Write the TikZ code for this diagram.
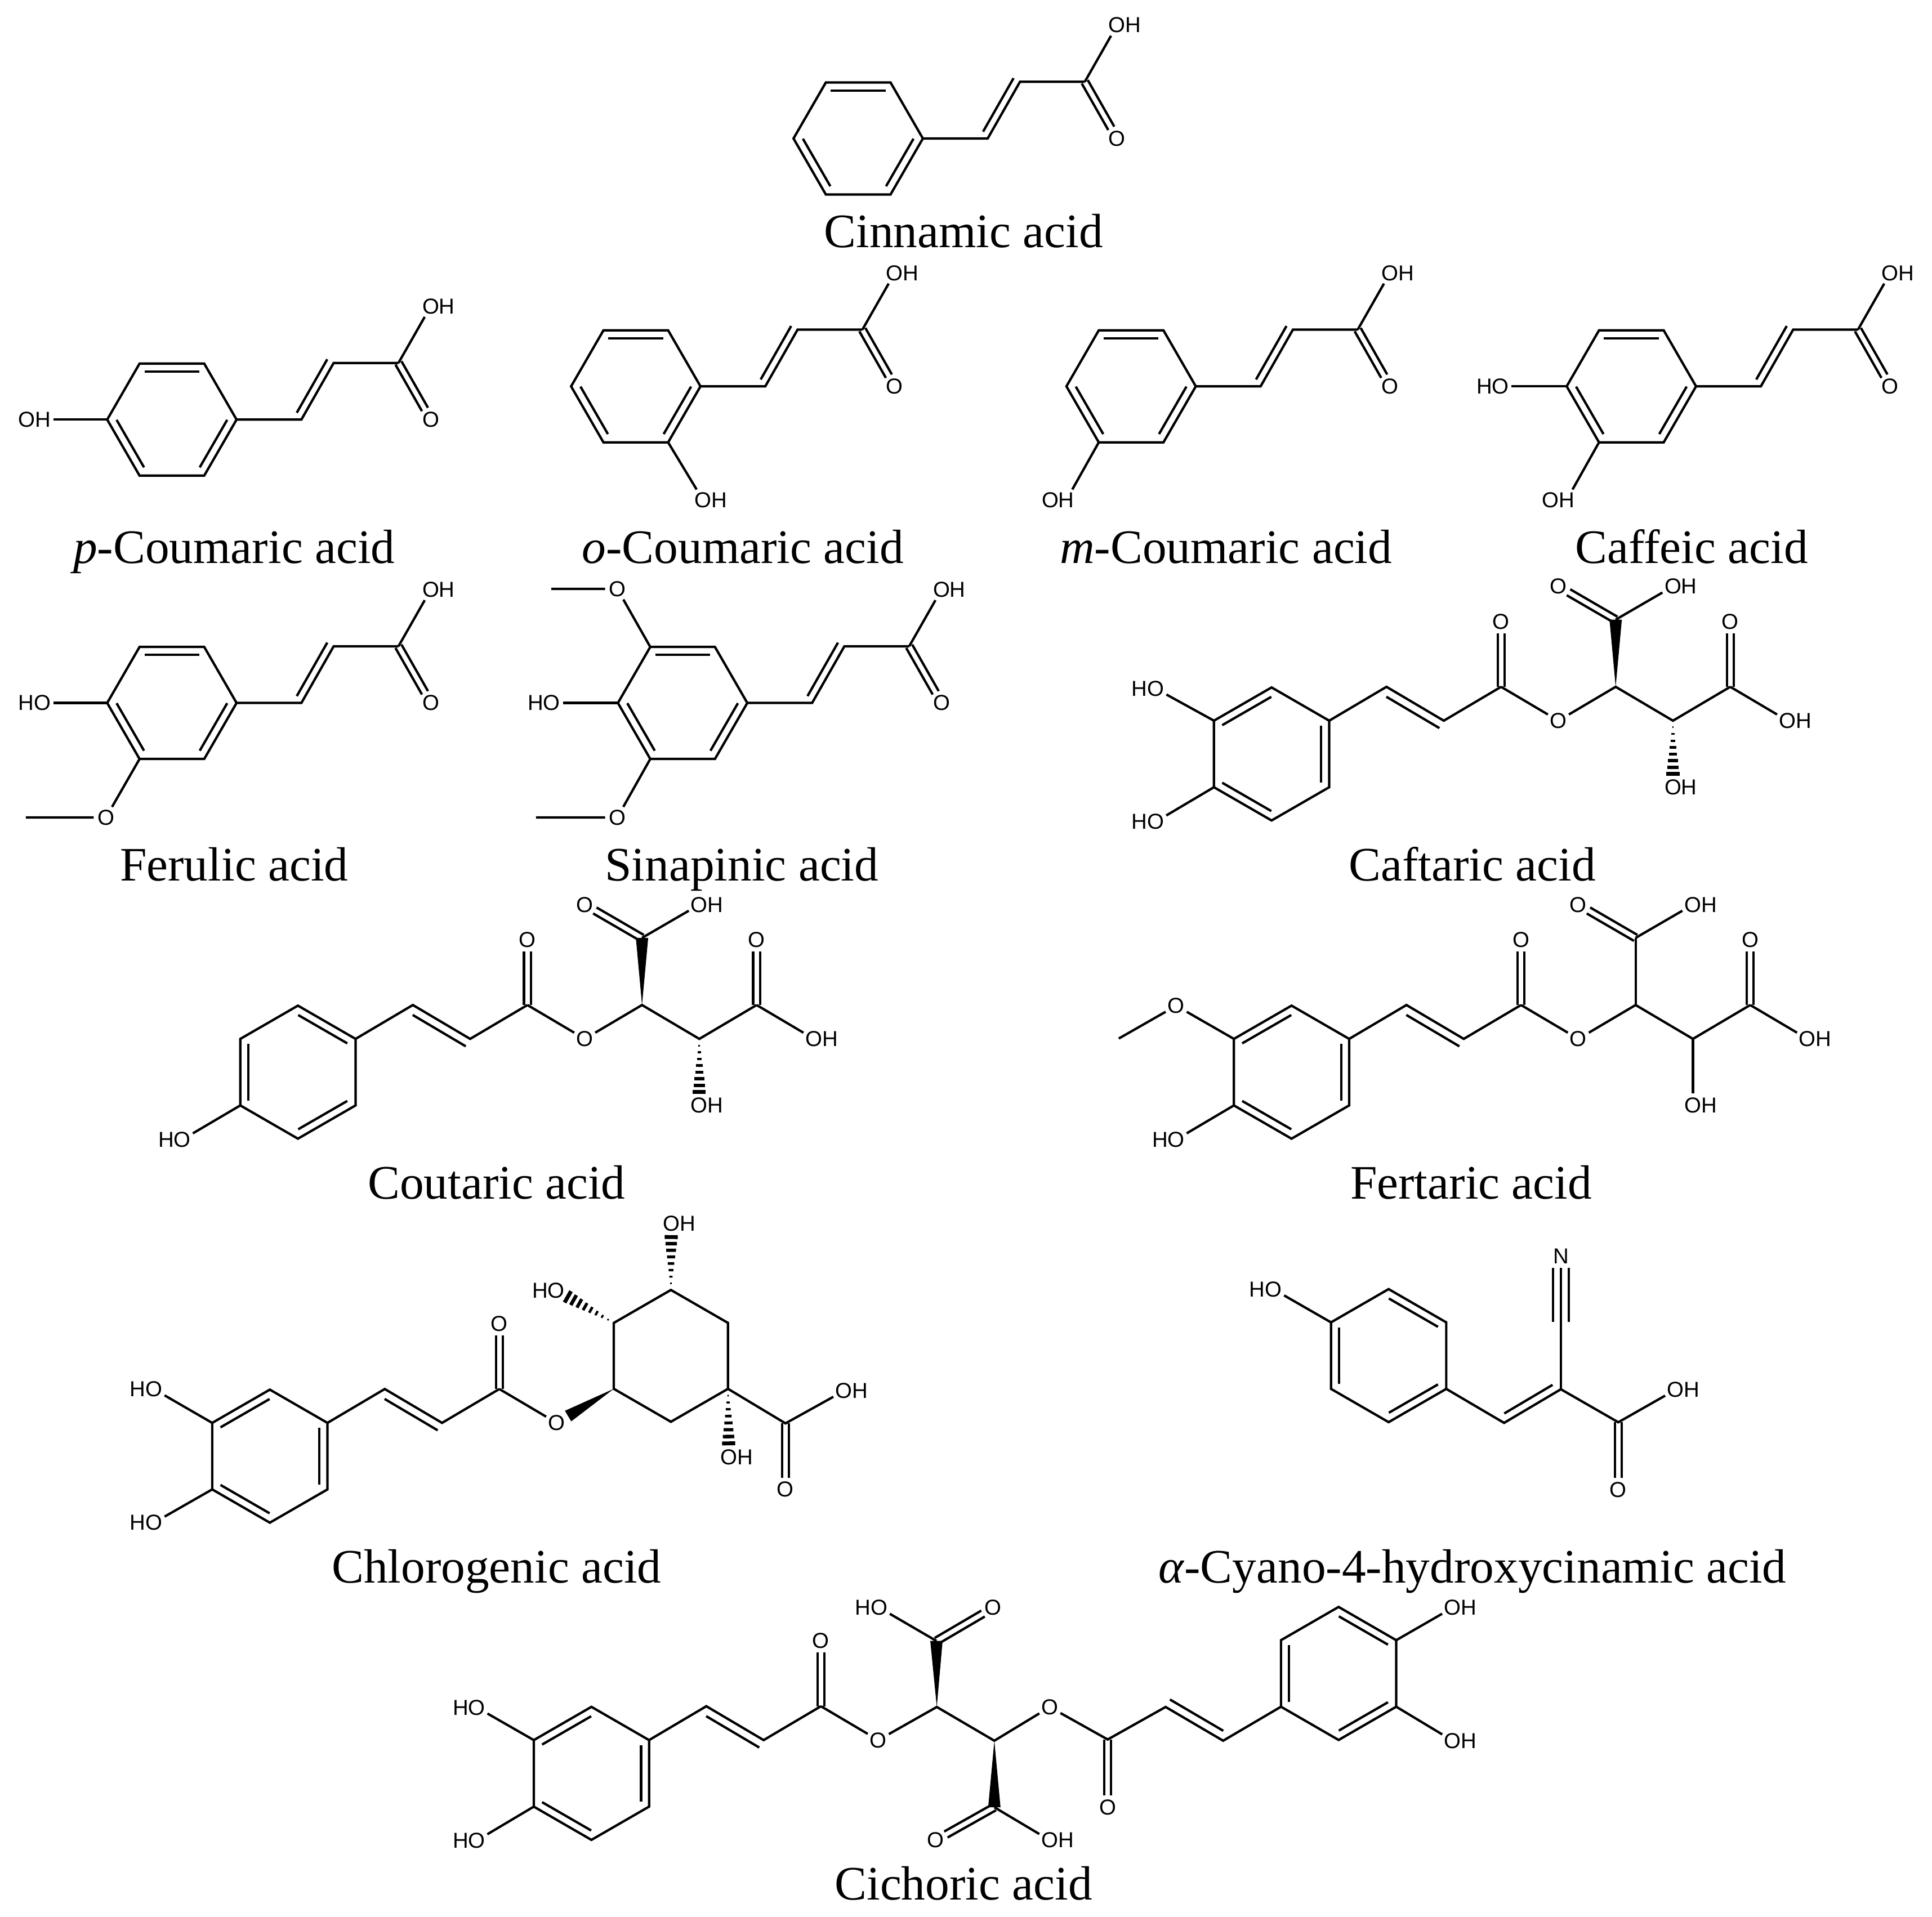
\documentclass[tikz,border=0pt]{standalone}
\usepackage{fontspec}
\setmainfont{Liberation Serif}
\newfontfamily\atomfont{Liberation Sans}
\usetikzlibrary{calc}

% ring: name, x, y, start angle, radius
\newcommand{\benzene}[5]{%
  \foreach \i in {1,...,6}{%
    \pgfmathsetmacro{\ang}{#4+60*(\i-1)}
    \coordinate (#1\i) at ($(#2,#3)+(\ang:#5)$);
  }
  \draw[bond] (#11) -- (#12) -- (#13) -- (#14) -- (#15) -- (#16) -- cycle;
}
\newcommand{\dblin}[2]{\draw[bond, shorten <=0.04cm, shorten >=0.04cm] ($(#1)!0.065cm!-90:(#2)$) -- ($(#2)!0.065cm!90:(#1)$);}
\newcommand{\innerA}[1]{\dblin{#15}{#16}\dblin{#13}{#14}\dblin{#11}{#12}}
\newcommand{\innerB}[1]{\dblin{#14}{#15}\dblin{#16}{#11}\dblin{#12}{#13}}
\newcommand{\alkeneL}[2]{\draw[bond, shorten <=0.03cm] ($(#1)!0.06cm!90:(#2)$) -- ($(#2)!0.06cm!-90:(#1)$);}
\newcommand{\alkeneR}[2]{\draw[bond, shorten <=0.04cm] ($(#1)!0.07cm!-90:(#2)$) -- ($(#2)!0.07cm!90:(#1)$);}
\newcommand{\carbonyl}[2]{%
  \draw[bond, shorten >=0.095cm] ($(#1)!0.028cm!90:(#2)$) -- ($(#2)!0.028cm!-90:(#1)$);
  \draw[bond, shorten >=0.095cm] ($(#1)!0.028cm!-90:(#2)$) -- ($(#2)!0.028cm!90:(#1)$);
}
\newcommand{\wedgebond}[2]{\fill (#1) -- ($(#2)!0.05cm!90:(#1)$) -- ($(#2)!0.05cm!-90:(#1)$) -- cycle;}
\newcommand{\hashbond}[2]{%
  \foreach \t in {0.1,0.2,...,0.8}{%
    \pgfmathsetmacro{\hw}{\t*0.066}
    \pgfmathsetmacro{\lw}{0.3+\t*0.75}
    \draw[line width=\lw pt] ($(#1)!\t!(#2)!\hw cm!90:(#1)$) -- ($(#1)!\t!(#2)!\hw cm!-90:(#1)$);
  }
}
% propenoic acid chain on a flat ring
\newcommand{\acidtail}[2]{%
  \coordinate (#1a) at ($(#2)+(52.6,0)$);
  \coordinate (#1b) at ($(#1a)+(26.2,-46)$);
  \coordinate (#1c) at ($(#1b)+(52.6,0)$);
  \node[atom] (#1o) at ($(#1c)+(26.2,46)$) {O};
  \node[atom] (#1h) at ($(#1c)+(26.2,-46)$) {O\rlap{H}};
  \draw[bond] (#2) -- (#1a) -- (#1b) -- (#1c);
  \draw[bond] (#1c) -- (#1h);
  \alkeneL{#1a}{#1b}
  \carbonyl{#1c}{#1o}
}
% ester chain on a pointed ring
\newcommand{\estertail}[2]{%
  \coordinate (#1a) at ($(#2)+(46.5,-27.5)$);
  \coordinate (#1b) at ($(#1a)+(46.5,27.5)$);
  \coordinate (#1c) at ($(#1b)+(46.5,-27.5)$);
  \node[atom] (#1o) at ($(#1c)+(0,-53)$) {O};
  \node[atom] (#1e) at ($(#1c)+(46.5,27.5)$) {O};
  \draw[bond] (#2) -- (#1a) -- (#1b) -- (#1c);
  \draw[bond] (#1c) -- (#1e);
  \alkeneR{#1a}{#1b}
  \carbonyl{#1c}{#1o}
}
% tartaric part after the ester oxygen
\newcommand{\tartaric}[2]{%
  \coordinate (#1d) at ($(#2)+(46.5,-27.5)$);
  \coordinate (#1t) at ($(#1d)+(0,-54.5)$);
  \node[atom] (#1to) at ($(#1t)+(-46.5,-27)$) {O};
  \node[atom] (#1th) at ($(#1t)+(46.5,-27)$) {O\rlap{H}};
  \coordinate (#1f) at ($(#1d)+(46.5,27.5)$);
  \node[atom] (#1fh) at ($(#1f)+(0,54)$) {O\rlap{H}};
  \coordinate (#1g) at ($(#1f)+(46.5,-27.5)$);
  \node[atom] (#1go) at ($(#1g)+(0,-53)$) {O};
  \node[atom] (#1gh) at ($(#1g)+(46.5,27.5)$) {O\rlap{H}};
  \draw[bond] (#2) -- (#1d) -- (#1f) -- (#1g);
  \draw[bond] (#1g) -- (#1gh);
  \draw[bond] (#1t) -- (#1th);
  \carbonyl{#1t}{#1to}
  \carbonyl{#1g}{#1go}
}

\begin{document}
\begin{tikzpicture}[
    x=0.1mm, y=-0.1mm,
    bond/.style={line width=0.55pt},
    atom/.style={circle, inner sep=0pt, minimum size=0.18cm, font=\atomfont\fontsize{5}{6}\selectfont},
    atomwide/.style={rectangle, inner sep=0.4pt, font=\atomfont\fontsize{5}{6}\selectfont},
    caption/.style={anchor=base, inner sep=0pt, font=\fontsize{11.1}{13}\selectfont}
]
\useasboundingbox (0,0) rectangle (1568,1556);

% Cinnamic acid
\benzene{cin}{696.5}{112.4}{0}{52.5}
\innerA{cin}
\acidtail{cinx}{cin1}
\node[caption] (lcin) at (782,201) {Cinnamic acid};

% p-Coumaric acid
\benzene{pco}{139.5}{340.6}{0}{52.5}
\innerA{pco}
\acidtail{pcox}{pco1}
\node[atomwide] (pcoh) at (28,340.6) {OH};
\draw[bond] (pco4) -- (pcoh);
\node[caption] (lpco) at (190,457) {\textit{p}-Coumaric acid};

% o-Coumaric acid
\benzene{oco}{516}{313.6}{0}{52.5}
\innerA{oco}
\acidtail{ocox}{oco1}
\node[atom] (ocoh) at (570.5,405.8) {O\rlap{H}};
\draw[bond] (oco2) -- (ocoh);
\node[caption] (loco) at (603,457) {\textit{o}-Coumaric acid};

% m-Coumaric acid
\benzene{mco}{918}{313.6}{0}{52.5}
\innerA{mco}
\acidtail{mcox}{mco1}
\node[atom] (mcoh) at (865.5,405.8) {\llap{O}H};
\draw[bond] (mco3) -- (mcoh);
\node[caption] (lmco) at (995,457) {\textit{m}-Coumaric acid};

% Caffeic acid
\benzene{caf}{1324}{313.6}{0}{52.5}
\innerA{caf}
\acidtail{cafx}{caf1}
\node[atomwide] (cafh) at (1211.5,313.6) {HO};
\node[atom] (cafi) at (1271.5,405.8) {\llap{O}H};
\draw[bond] (caf4) -- (cafh);
\draw[bond] (caf3) -- (cafi);
\node[caption] (lcaf) at (1373,457) {Caffeic acid};

% Ferulic acid
\benzene{fer}{139.5}{570.6}{0}{52.5}
\innerA{fer}
\acidtail{ferx}{fer1}
\node[atomwide] (ferh) at (28,570.6) {HO};
\node[atom] (fero) at (86,663.6) {O};
\coordinate (ferm) at (21,663.6);
\draw[bond] (fer4) -- (ferh);
\draw[bond] (fer3) -- (fero) -- (ferm);
\node[caption] (lfer) at (190,715) {Ferulic acid};

% Sinapinic acid
\benzene{sin}{554}{570.6}{0}{52.5}
\innerA{sin}
\acidtail{sinx}{sin1}
\node[atomwide] (sinh) at (441.5,570.6) {HO};
\node[atom] (sino) at (501,663.6) {O};
\node[atom] (sinp) at (501,478) {O};
\coordinate (sinm) at (435,663.6);
\coordinate (sinn) at (447.5,478);
\draw[bond] (sin4) -- (sinh);
\draw[bond] (sin3) -- (sino) -- (sinm);
\draw[bond] (sin5) -- (sinp) -- (sinn);
\node[caption] (lsin) at (602,715) {Sinapinic acid};

% Caftaric acid
\benzene{cft}{1032}{612}{30}{54}
\innerB{cft}
\estertail{cftx}{cft6}
\tartaric{cfty}{cftxe}
\wedgebond{cftyd}{cftyt}
\hashbond{cftyf}{cftyfh}
\node[atom] (cfth) at (938,559) {\llap{H}O};
\node[atom] (cfti) at (938,667) {\llap{H}O};
\draw[bond] (cft4) -- (cfth);
\draw[bond] (cft3) -- (cfti);
\node[caption] (lcft) at (1195,715) {Caftaric acid};

% Coutaric acid
\benzene{cou}{241.8}{870.3}{30}{54}
\innerA{cou}
\estertail{coux}{cou6}
\tartaric{couy}{couxe}
\wedgebond{couyd}{couyt}
\hashbond{couyf}{couyfh}
\node[atom] (couh) at (148,925) {\llap{H}O};
\draw[bond] (cou3) -- (couh);
\node[caption] (lcou) at (403,973) {Coutaric acid};

% Fertaric acid
\benzene{fet}{1048.2}{870.3}{30}{54}
\innerB{fet}
\estertail{fetx}{fet6}
\tartaric{fety}{fetxe}
\draw[bond] (fetyd) -- (fetyt);
\draw[bond] (fetyf) -- (fetyfh);
\node[atom] (feto) at (954.6,816.4) {O};
\coordinate (fetm) at (908,843);
\node[atom] (feth) at (954.6,925) {\llap{H}O};
\draw[bond] (fet4) -- (feto) -- (fetm);
\draw[bond] (fet3) -- (feth);
\node[caption] (lfet) at (1194,973) {Fertaric acid};

% Chlorogenic acid
\benzene{chl}{219}{1182}{30}{54}
\innerB{chl}
\estertail{chlx}{chl6}
\benzene{qui}{544.5}{1100.6}{30}{53.5}
\coordinate (chlw) at ($(qui3)!0.8!(chlxe)$);
\wedgebond{qui3}{chlw}
\node[atom] (quia) at (544.8,993.4) {O\rlap{H}};
\node[atom] (quib) at (451.5,1047.4) {\llap{H}O};
\node[atom] (quic) at (591.5,1182.7) {O\rlap{H}};
\hashbond{qui5}{quia}
\hashbond{qui4}{quib}
\hashbond{qui1}{quic}
\coordinate (quid) at (637.5,1155.4);
\node[atom] (quie) at (685,1129) {O\rlap{H}};
\node[atom] (quif) at (637.5,1209) {O};
\draw[bond] (qui1) -- (quid) -- (quie);
\carbonyl{quid}{quif}
\node[atom] (chlh) at (125,1127.7) {\llap{H}O};
\node[atom] (chli) at (125,1236) {\llap{H}O};
\draw[bond] (chl4) -- (chlh);
\draw[bond] (chl3) -- (chli);
\node[caption] (lchl) at (403,1285) {Chlorogenic acid};

% Cyano acid
\benzene{cya}{1127}{1100.4}{30}{54}
\innerA{cya}
\node[atom] (cyah) at (1033.6,1046.6) {\llap{H}O};
\draw[bond] (cya4) -- (cyah);
\coordinate (cyaa) at (1220.7,1155);
\coordinate (cyab) at (1266.8,1127.7);
\coordinate (cyac) at (1313.4,1154.5);
\coordinate (cyad) at (1266.8,1073);
\node[atom] (cyan) at (1266.8,1019.5) {N};
\node[atom] (cyai) at (1360,1128) {O\rlap{H}};
\node[atom] (cyao) at (1313.4,1209.3) {O};
\draw[bond] (cya1) -- (cyaa) -- (cyab) -- (cyac) -- (cyai);
\dblin{cyab}{cyaa}
\carbonyl{cyac}{cyao}
\draw[bond] (cyab) -- (cyan);
\draw[bond, shorten >=0.095cm] ($(cyad)!0.064cm!90:(cyan)$) -- ($(cyan)!0.064cm!-90:(cyad)$);
\draw[bond, shorten >=0.095cm] ($(cyad)!0.064cm!-90:(cyan)$) -- ($(cyan)!0.064cm!90:(cyad)$);
\node[caption] (lcya) at (1195,1285) {\textit{α}-Cyano-4-hydroxycinamic acid};

% Cichoric acid
\benzene{cil}{480}{1439.5}{30}{54}
\innerB{cil}
\estertail{cilx}{cil6}
\node[atom] (cilh) at (387,1386) {\llap{H}O};
\node[atom] (cili) at (387,1494) {\llap{H}O};
\draw[bond] (cil4) -- (cilh);
\draw[bond] (cil3) -- (cili);
\coordinate (cid) at (760.3,1385.6);
\coordinate (cie) at (807,1413);
\coordinate (cit) at (760,1332);
\coordinate (cif) at (807,1467);
\wedgebond{cid}{cit}
\wedgebond{cie}{cif}
\node[atom] (cita) at (806,1305) {O};
\node[atom] (citb) at (713.6,1305) {\llap{H}O};
\node[atom] (cifa) at (759.4,1493.8) {O};
\node[atom] (cifb) at (852,1493.8) {O\rlap{H}};
\carbonyl{cit}{cita}
\carbonyl{cif}{cifa}
\draw[bond] (cit) -- (citb);
\draw[bond] (cif) -- (cifb);
\node[atom] (cio) at (852,1385.7) {O};
\coordinate (cic) at (899,1412);
\coordinate (cib) at (946,1385.6);
\coordinate (cia) at (992.7,1413);
\node[atom] (cicc) at (899,1467) {O};
\benzene{cir}{1086.4}{1358.4}{30}{54}
\innerA{cir}
\draw[bond] (cilxe) -- (cid) -- (cie) -- (cio) -- (cic) -- (cib) -- (cia) -- (cir3);
\alkeneR{cia}{cib}
\carbonyl{cic}{cicc}
\node[atom] (cirh) at (1179,1305) {O\rlap{H}};
\node[atom] (ciri) at (1179,1413) {O\rlap{H}};
\draw[bond] (cir6) -- (cirh);
\draw[bond] (cir1) -- (ciri);
\node[caption] (lcic) at (782,1542) {Cichoric acid};

\end{tikzpicture}
\end{document}
